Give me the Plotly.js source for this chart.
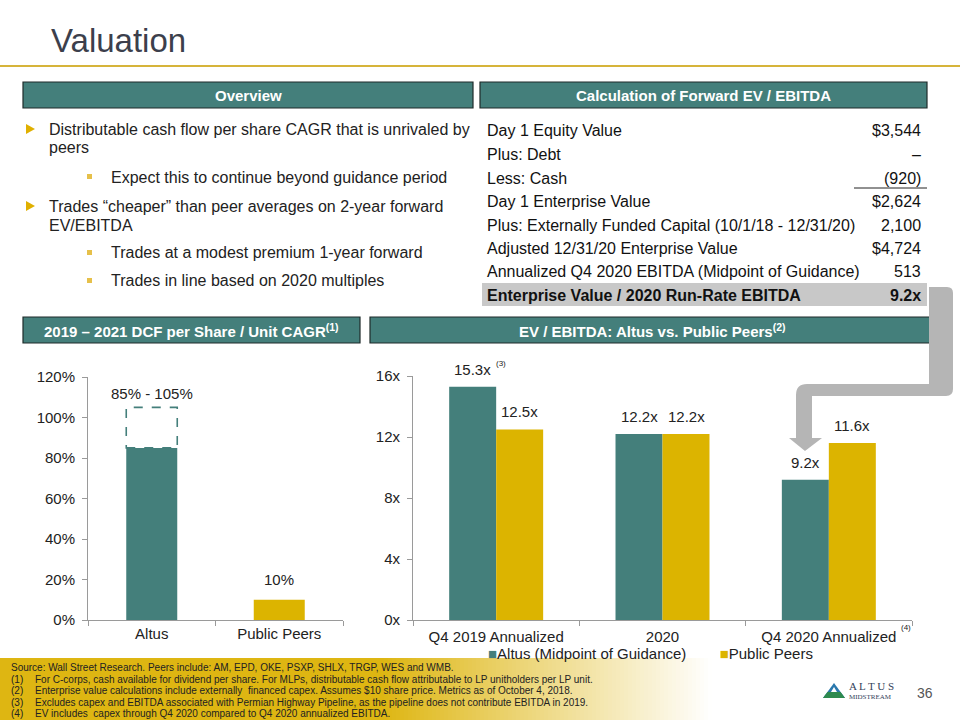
<!DOCTYPE html>
<html><head><meta charset="utf-8">
<script src="https://cdn.plot.ly/plotly-3.0.1.min.js"></script>
<style>html,body{margin:0;padding:0;background:#fff}#chart{width:960px;height:720px}</style>
</head><body><div id="chart"></div>
<script>
// ---------- DATA ----------
const cagrCategories = ['Altus', 'Public Peers'];
const cagrValues = [85, 10];
const cagrRangeHigh = [105, null];
const cagrLabels = ['85% - 105%', '10%'];

const evCategories = ['Q4 2019 Annualized', '2020', 'Q4 2020 Annualized'];
const evSeriesNames = ['Altus (Midpoint of Guidance)', 'Public Peers'];
const altusEv = [15.3, 12.2, 9.2];
const peersEv = [12.5, 12.2, 11.6];

const tableLabels = ['Day 1 Equity Value', 'Plus: Debt', 'Less: Cash', 'Day 1 Enterprise Value',
  'Plus: Externally Funded Capital (10/1/18 - 12/31/20)', 'Adjusted 12/31/20 Enterprise Value',
  'Annualized Q4 2020 EBITDA (Midpoint of Guidance)', 'Enterprise Value / 2020 Run-Rate EBITDA'];
const tableValues = ['$3,544', '–', '(920)', '$2,624', '2,100', '$4,724', '513', '9.2x'];

const mainBullets = [
  ['Distributable cash flow per share CAGR that is unrivaled by', 'peers'],
  ['Trades \u201ccheaper\u201d than peer averages on 2-year forward', 'EV/EBITDA']
];
const subBullets = ['Expect this to continue beyond guidance period',
  'Trades at a modest premium 1-year forward', 'Trades in line based on 2020 multiples'];

const footnoteSource = 'Source: Wall Street Research. Peers include: AM, EPD, OKE, PSXP, SHLX, TRGP, WES and WMB.';
const footnotes = [
  ['(1)', 'For C-corps, cash available for dividend per share. For MLPs, distributable cash flow attributable to LP unitholders per LP unit.'],
  ['(2)', 'Enterprise value calculations include externally  financed capex. Assumes $10 share price. Metrics as of October 4, 2018.'],
  ['(3)', 'Excludes capex and EBITDA associated with Permian Highway Pipeline, as the pipeline does not contribute EBITDA in 2019.'],
  ['(4)', 'EV includes  capex through Q4 2020 compared to Q4 2020 annualized EBITDA.']
];

// ---------- STYLE ----------
const TEAL = '#447f7b', GOLD = '#dcb400', FONT = 'Arial, "Liberation Sans", sans-serif';
const W = 960, H = 720;
const px = x => x / W, py = y => 1 - y / H;

function pathOf(cmds) {
  return cmds.map(c => c[0] + ' ' + c.slice(1).map((v, i) => i % 2 === 0 ? px(v).toFixed(5) : py(v).toFixed(5)).join(' ')).join(' ') + ' Z';
}
function ann(x, y, text, o) {
  o = o || {};
  return Object.assign({xref: 'paper', yref: 'paper', x: px(x), y: py(y), text: text, showarrow: false,
    xanchor: 'left', yanchor: 'middle', font: {family: FONT, size: 16, color: '#1a1a1a'}}, o);
}
function rect(x0, y0, x1, y1, o) {
  return Object.assign({type: 'rect', xref: 'paper', yref: 'paper', x0: px(x0), x1: px(x1), y0: py(y1), y1: py(y0)}, o);
}

const shapes = [], annotations = [];

// footer gradient band
const gold = [222, 182, 18];
shapes.push(rect(0, 658, 382, 720, {fillcolor: 'rgb(' + gold.join(',') + ')', line: {width: 0}, layer: 'below'}));
for (let x = 380; x < 720; x += 4) {
  const t = Math.min(1, (x - 380) / 330);
  const c = gold.map(v => Math.round(v + (255 - v) * t));
  shapes.push(rect(x, 658, x + 4.5, 720, {fillcolor: 'rgb(' + c.join(',') + ')', line: {width: 0}, layer: 'below'}));
}

// title & rule
annotations.push(ann(49, 40, 'Valuation', {font: {family: FONT, size: 33, color: '#3c3f4c'}}));
shapes.push({type: 'line', xref: 'paper', yref: 'paper', x0: 0, x1: 1, y0: py(66), y1: py(66), line: {color: '#d6b43a', width: 2}});

// header boxes
const headers = [[23, 82, 473, 108, '<b>Overview</b>'], [480, 82, 927, 108, '<b>Calculation of Forward EV / EBITDA</b>'],
  [23, 317, 360, 343, '<b>2019 – 2021 DCF per Share / Unit CAGR<sup>(1)</sup></b>'],
  [370, 317, 934, 343, '<b>EV / EBITDA: Altus vs. Public Peers<sup>(2)</sup></b>']];
headers.forEach(h => {
  shapes.push(rect(h[0], h[1], h[2], h[3], {fillcolor: TEAL, line: {color: '#1e2b2a', width: 1.2}}));
  annotations.push(ann((h[0] + h[2]) / 2, (h[1] + h[3]) / 2 + 1, h[4], {xanchor: 'center', font: {family: FONT, size: 15, color: '#ffffff'}}));
});

// bullets
const mainY = [[129, 148], [206, 225]];
mainBullets.forEach((b, i) => {
  const y = mainY[i][0];
  shapes.push({type: 'path', xref: 'paper', yref: 'paper', path: pathOf([['M', 26, y - 5], ['L', 35, y], ['L', 26, y + 5]]), fillcolor: '#e0b000', line: {width: 0}});
  b.forEach((line, j) => annotations.push(ann(47, mainY[i][j], line, {font: {family: FONT, size: 16, color: '#222'}})));
});
const subY = [177, 253, 281];
subBullets.forEach((s, i) => {
  shapes.push(rect(87, subY[i] - 3, 92, subY[i] + 2, {fillcolor: '#e6c04a', line: {width: 0}}));
  annotations.push(ann(109, subY[i], s, {font: {family: FONT, size: 16, color: '#222'}}));
});

// table
const rowY = [130, 154, 178, 201, 225, 248, 271, 295];
shapes.push(rect(482, 283, 927, 306, {fillcolor: '#c8c8c8', line: {width: 0}, layer: 'below'}));
shapes.push({type: 'line', xref: 'paper', yref: 'paper', x0: px(854), x1: px(927), y0: py(188), y1: py(188), line: {color: '#222', width: 1}});
tableLabels.forEach((l, i) => {
  const bold = i === tableLabels.length - 1;
  annotations.push(ann(485, rowY[i], bold ? '<b>' + l + '</b>' : l, {font: {family: FONT, size: 16, color: '#111'}}));
  annotations.push(ann(923, rowY[i], bold ? '<b>' + tableValues[i] + '</b>' : tableValues[i], {xanchor: 'right', font: {family: FONT, size: 16, color: '#111'}}));
});

// bent arrow
shapes.push({type: 'path', xref: 'paper', yref: 'paper', fillcolor: '#b5b5b5', line: {width: 0},
  path: pathOf([['M', 929, 287], ['L', 947, 287], ['Q', 953, 287, 953, 293], ['L', 953, 389], ['Q', 953, 396, 946, 396],
    ['L', 812, 396], ['L', 812, 438], ['L', 822, 438], ['L', 805, 451], ['L', 789, 438], ['L', 796, 438],
    ['L', 796, 395], ['Q', 796, 384, 807, 384], ['L', 929, 384]])});

// dashed range box for Altus CAGR
shapes.push({type: 'rect', xref: 'x', yref: 'y', x0: -0.2, x1: 0.2, y0: cagrValues[0], y1: cagrRangeHigh[0],
  line: {color: TEAL, width: 1.6, dash: 'dash'}, fillcolor: 'rgba(0,0,0,0)'});

// left chart labels
annotations.push({xref: 'x', yref: 'y', x: cagrCategories[0], y: cagrRangeHigh[0], text: cagrLabels[0], showarrow: false,
  yanchor: 'bottom', yshift: 3, font: {family: FONT, size: 15, color: '#222'}});
annotations.push({xref: 'x', yref: 'y', x: cagrCategories[1], y: cagrValues[1], text: cagrLabels[1], showarrow: false,
  yanchor: 'bottom', yshift: 10, font: {family: FONT, size: 15, color: '#222'}});

// right chart: numeric positions = category index
const evPos = evCategories.map((c, i) => i);
const halfBar = 23.5;
[[altusEv, -halfBar], [peersEv, halfBar]].forEach(s => {
  s[0].forEach((v, i) => annotations.push({xref: 'x2', yref: 'y2', x: evPos[i], y: v, xshift: s[1], yshift: 7,
    text: v.toFixed(1) + 'x', showarrow: false, yanchor: 'bottom', font: {family: FONT, size: 15, color: '#222'}}));
});
annotations.push(ann(494, 363, '(3)', {font: {family: FONT, size: 8, color: '#222'}}));
annotations.push(ann(899, 627, '(4)', {font: {family: FONT, size: 8, color: '#222'}}));

// legend (manual)
annotations.push(ann(650, 653, '<span style="color:' + TEAL + '">■</span>' + evSeriesNames[0] + '        <span style="color:' + GOLD + '">■</span>' + evSeriesNames[1],
  {xanchor: 'center', font: {family: FONT, size: 15, color: '#222'}}));

// footnotes
annotations.push(ann(9, 667, footnoteSource, {font: {family: FONT, size: 10, color: '#222'}}));
footnotes.forEach((f, i) => {
  const y = 679 + i * 11.5;
  annotations.push(ann(9, y, f[0], {font: {family: FONT, size: 10, color: '#222'}}));
  annotations.push(ann(33, y, f[1], {font: {family: FONT, size: 10, color: '#222'}}));
});

// logo & page number
shapes.push({type: 'path', xref: 'paper', yref: 'paper', fillcolor: '#2a78ad', line: {width: 0}, path: pathOf([['M', 823, 698], ['L', 834, 683], ['L', 845, 698]])});
shapes.push({type: 'path', xref: 'paper', yref: 'paper', fillcolor: '#2e8a4f', line: {width: 0}, path: pathOf([['M', 823, 698], ['L', 827.4, 692], ['L', 840.6, 692], ['L', 845, 698]])});
shapes.push({type: 'path', xref: 'paper', yref: 'paper', fillcolor: '#ffffff', line: {width: 0}, path: pathOf([['M', 831, 692], ['L', 834, 687], ['L', 837, 692]])});
annotations.push(ann(847, 686, 'A L T U S', {font: {family: '"Liberation Serif", "DejaVu Serif", serif', size: 11, color: '#33425a'}}));
annotations.push(ann(847, 697, 'MIDSTREAM', {font: {family: '"Liberation Serif", "DejaVu Serif", serif', size: 7, color: '#33425a'}}));
annotations.push(ann(935, 693, '36', {xanchor: 'right', font: {family: FONT, size: 14, color: '#555'}}));

// ---------- TRACES ----------
const traces = [
  {type: 'bar', x: cagrCategories, y: cagrValues, width: 0.4, marker: {color: [TEAL, GOLD]}, xaxis: 'x', yaxis: 'y', showlegend: false, hoverinfo: 'skip'},
  {type: 'bar', name: evSeriesNames[0], x: evPos, y: altusEv, marker: {color: TEAL}, xaxis: 'x2', yaxis: 'y2', showlegend: false, hoverinfo: 'skip'},
  {type: 'bar', name: evSeriesNames[1], x: evPos, y: peersEv, marker: {color: GOLD}, xaxis: 'x2', yaxis: 'y2', showlegend: false, hoverinfo: 'skip'}
];

const axBase = {showline: true, linecolor: '#9a9a9a', linewidth: 1, ticks: 'outside', ticklen: 5, tickcolor: '#9a9a9a',
  showgrid: false, zeroline: false, fixedrange: true, tickfont: {family: FONT, size: 15, color: '#222'}};
const layout = {
  width: W, height: H, margin: {l: 0, r: 0, t: 0, b: 0}, paper_bgcolor: '#fff', plot_bgcolor: 'rgba(0,0,0,0)',
  barmode: 'group', bargap: 0.435, bargroupgap: 0, showlegend: false,
  xaxis: Object.assign({}, axBase, {domain: [px(88), px(343)], anchor: 'y', type: 'category', tickson: 'boundaries'}),
  yaxis: Object.assign({}, axBase, {domain: [py(620), py(377)], anchor: 'x', range: [0, 120], dtick: 20, ticksuffix: '%', ticklabelstandoff: 4}),
  xaxis2: Object.assign({}, axBase, {domain: [px(413), px(912)], anchor: 'y2', type: 'linear',
    range: [-0.5, evCategories.length - 0.5], tickmode: 'array', tickvals: evPos, ticktext: evCategories, ticks: '',
    minor: {tickmode: 'array', tickvals: evPos.concat([evPos.length]).map(v => v - 0.5), ticks: 'outside', ticklen: 5, tickcolor: '#9a9a9a', showgrid: false},
    ticklabelstandoff: 3}),
  yaxis2: Object.assign({}, axBase, {domain: [py(620), py(376)], anchor: 'x2', range: [0, 16], dtick: 4, ticksuffix: 'x', ticklabelstandoff: 4}),
  shapes: shapes, annotations: annotations
};
Plotly.newPlot('chart', traces, layout, {staticPlot: true, displayModeBar: false});
</script></body></html>
